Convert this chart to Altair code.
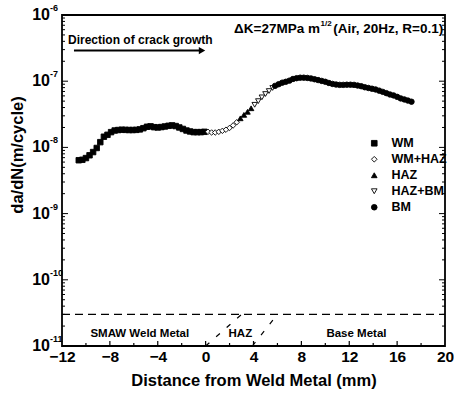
import altair as alt
import pandas as pd

FONT = "Liberation Sans"

# ---- data ----
wm_x = [-10.6, -10.3, -10.0, -9.7, -9.4, -9.1, -8.8, -8.5, -8.2, -7.9, -7.6, -7.3, -7.0, -6.7, -6.4, -6.1,
        -5.8, -5.5, -5.2, -4.9, -4.6, -4.3, -4.0, -3.7, -3.4, -3.1, -2.8, -2.5, -2.2, -1.9, -1.6, -1.3,
        -1.0, -0.7, -0.4, -0.1]
wm_y = [6.4e-9, 6.5e-9, 6.9e-9, 7.6e-9, 8.5e-9, 9.8e-9, 1.2e-8, 1.45e-8, 1.55e-8, 1.7e-8, 1.8e-8, 1.83e-8,
        1.85e-8, 1.84e-8, 1.83e-8, 1.83e-8, 1.84e-8, 1.87e-8, 1.95e-8, 2.05e-8, 2.08e-8, 2.02e-8, 2.0e-8,
        2.03e-8, 2.07e-8, 2.12e-8, 2.15e-8, 2.1e-8, 2.0e-8, 1.9e-8, 1.8e-8, 1.74e-8, 1.7e-8, 1.7e-8,
        1.7e-8, 1.72e-8]
wmhaz_x = [0.2, 0.5, 0.8, 1.1, 1.4, 1.7, 2.0, 2.3, 2.6]
wmhaz_y = [1.72e-8, 1.68e-8, 1.68e-8, 1.72e-8, 1.78e-8, 1.85e-8, 1.97e-8, 2.15e-8, 2.4e-8]
haz_x = [2.9, 3.2, 3.5, 3.8]
haz_y = [2.75e-8, 3.1e-8, 3.45e-8, 3.9e-8]
hazbm_x = [4.1, 4.4, 4.7, 5.0, 5.3, 5.6]
hazbm_y = [4.4e-8, 5.0e-8, 5.7e-8, 6.4e-8, 7.1e-8, 7.9e-8]
bm_x = [5.8, 6.1, 6.4, 6.7, 7.0, 7.3, 7.6, 7.9, 8.2, 8.5, 8.8, 9.1, 9.4, 9.7, 10.0, 10.3, 10.6, 10.9,
        11.2, 11.5, 11.8, 12.1, 12.4, 12.7, 13.0, 13.3, 13.6, 13.9, 14.2, 14.5, 14.8, 15.1, 15.4, 15.7,
        16.0, 16.3, 16.6, 16.9, 17.2]
bm_y = [8.5e-8, 9.0e-8, 9.5e-8, 9.8e-8, 1.02e-7, 1.08e-7, 1.11e-7, 1.13e-7, 1.13e-7, 1.12e-7, 1.1e-7,
        1.07e-7, 1.04e-7, 1.01e-7, 9.8e-8, 9.4e-8, 9.1e-8, 8.9e-8, 8.8e-8, 8.8e-8, 8.85e-8, 8.85e-8,
        8.8e-8, 8.6e-8, 8.4e-8, 8.1e-8, 7.9e-8, 7.7e-8, 7.5e-8, 7.2e-8, 6.9e-8, 6.6e-8, 6.3e-8, 6.1e-8,
        5.8e-8, 5.5e-8, 5.3e-8, 5.1e-8, 4.9e-8]

series_names = ["WM", "WM+HAZ", "HAZ", "HAZ+BM", "BM"]
series_shapes = ["square", "diamond", "triangle-up", "triangle-down", "circle"]
series_fills = ["black", "white", "black", "white", "black"]

x_tick_labels = [-12, -8, -4, 0, 4, 8, 12, 16, 20]
x_minor = [-10, -6, -2, 2, 6, 10, 14, 18]
y_exponents = [-6, -7, -8, -9, -10, -11]

threshold = 3e-11
zone_text = ["SMAW Weld Metal", "HAZ", "Base Metal"]
zone_x = [-5.5, 2.9, 12.6]
zone_y = 1.52e-11
haz_lines = [(0.0, 1e-11, "a"), (3.0, 3e-11, "a"), (3.9, 1e-11, "b"), (6.0, 3e-11, "b")]

# ---- tables ----
rows = []
for name, xs_, ys_ in zip(series_names, [wm_x, wmhaz_x, haz_x, hazbm_x, bm_x],
                          [wm_y, wmhaz_y, haz_y, hazbm_y, bm_y]):
    rows += [{"x": a, "y": b, "s": name} for a, b in zip(xs_, ys_)]
df = pd.DataFrame(rows)

W, H = 383, 331
xs = alt.Scale(domain=[-12, 20], nice=False, zero=False)
ys = alt.Scale(type="log", domain=[1e-11, 1e-6], nice=False)

X_AX = alt.Axis(
    title="Distance from Weld Metal (mm)", values=x_tick_labels, ticks=False, domain=False,
    grid=False, labelFont=FONT, labelFontSize=15.5, labelFontWeight="bold", labelColor="black",
    labelPadding=3, labelFlush=False, titleFont=FONT, titleFontSize=16.5, titleFontWeight="bold",
    titleColor="black", titlePadding=8)


def X(field="x:Q"):
    return alt.X(field, scale=xs, axis=X_AX)


def Y(field="y:Q"):
    return alt.Y(field, scale=ys, axis=None)


def legend():
    return alt.Legend(title=None, orient="none", legendX=306, legendY=122, padding=0,
                      labelFont=FONT, labelFontWeight="bold", labelFontSize=12.5,
                      labelColor="black", symbolSize=32, symbolStrokeWidth=0.9,
                      labelOffset=11, rowPadding=3)


points = alt.Chart(df).mark_point(stroke="black", strokeWidth=0.9, size=30, opacity=1, filled=True).encode(
    x=X(),
    y=Y(),
    shape=alt.Shape("s:N", scale=alt.Scale(domain=series_names, range=series_shapes), legend=legend()),
    color=alt.Color("s:N", scale=alt.Scale(domain=series_names, range=series_fills), legend=legend()),
)

# ticks (inward)
xmaj = pd.DataFrame({"x": x_tick_labels[1:-1]})
xmin = pd.DataFrame({"x": x_minor})
x_ticks_maj = alt.Chart(xmaj).mark_rule(color="black", strokeWidth=1.2).encode(
    x=X(), y=alt.value(H), y2=alt.value(H - 5))
x_ticks_min = alt.Chart(xmin).mark_rule(color="black", strokeWidth=1.2).encode(
    x=X(), y=alt.value(H), y2=alt.value(H - 3))

ymaj_vals = [10.0 ** e for e in y_exponents]
ymin_vals = [m * 10.0 ** e for e in range(-11, -6) for m in range(2, 10)]
ymaj = pd.DataFrame({"y": ymaj_vals})
ymin = pd.DataFrame({"y": ymin_vals})
y_ticks = []
for d, ln in [(ymaj, 6), (ymin, 3)]:
    y_ticks.append(alt.Chart(d).mark_rule(color="black", strokeWidth=1).encode(
        y=Y(), x=alt.value(0), x2=alt.value(ln)))
    y_ticks.append(alt.Chart(d).mark_rule(color="black", strokeWidth=1).encode(
        y=Y(), x=alt.value(W), x2=alt.value(W - ln)))

# y labels with superscripts
ylab = pd.DataFrame({"y": ymaj_vals, "base": ["10"] * len(y_exponents),
                     "exp": [str(e) for e in y_exponents]})
ylab_base = alt.Chart(ylab).mark_text(font=FONT, fontWeight="bold", fontSize=16, align="right",
                                      baseline="middle", color="black").encode(
    y=Y(), x=alt.value(-12), text="base:N")
ylab_exp = alt.Chart(ylab).mark_text(font=FONT, fontWeight="bold", fontSize=9, align="left",
                                     baseline="middle", color="black", dy=-7).encode(
    y=Y(), x=alt.value(-12), text="exp:N")

y_title = alt.Chart(pd.DataFrame({"t": ["da/dN(m/cycle)"]})).mark_text(
    font=FONT, fontWeight="bold", fontSize=16.5, angle=270, align="center", baseline="middle",
    color="black").encode(x=alt.value(-44), y=alt.value(140), text="t:N")

# threshold dashed line and HAZ slants
thr = alt.Chart(pd.DataFrame({"y": [threshold]})).mark_rule(
    color="black", strokeWidth=1.3, strokeDash=[8, 5]).encode(
    y=Y(), x=alt.value(0), x2=alt.value(W))
hz = pd.DataFrame(haz_lines, columns=["x", "y", "g"])
haz_l = alt.Chart(hz).mark_line(color="black", strokeWidth=1.2, strokeDash=[5, 9]).encode(
    x=X(), y=Y(), detail="g:N")

zones = alt.Chart(pd.DataFrame({"x": zone_x, "y": [zone_y] * 3, "t": zone_text})).mark_text(
    font=FONT, fontWeight="bold", fontSize=11.5, align="center", baseline="middle",
    color="black").encode(x=X(), y=Y(), text="t:N")

# arrow
arrow = alt.Chart(pd.DataFrame({"x": [-11.0], "x2": [-0.5], "y": [2.9e-7]})).mark_rule(
    color="black", strokeWidth=2).encode(x=X(), x2="x2:Q", y=Y())
head = alt.Chart(pd.DataFrame({"x": [-0.3], "y": [2.9e-7]})).mark_point(
    shape="triangle-right", filled=True, color="black", size=55, opacity=1).encode(x=X(), y=Y())
arrow_text = alt.Chart(pd.DataFrame({"x": [-11.5], "y": [4.2e-7], "t": ["Direction of crack growth"]})).mark_text(
    font=FONT, fontWeight="bold", fontSize=12, align="left", baseline="middle", color="black").encode(
    x=X(), y=Y(), text="t:N")

# condition label
cond_main = alt.Chart(pd.DataFrame({"x": [9.55], "y": [6.15e-7], "t": ["\u0394K=27MPa m"]})).mark_text(
    font=FONT, fontWeight="bold", fontSize=13.5, align="right", baseline="middle", color="black").encode(
    x=X(), y=Y(), text="t:N")
cond_sup = alt.Chart(pd.DataFrame({"x": [9.6], "y": [6.15e-7], "t": ["1/2"]})).mark_text(
    font=FONT, fontWeight="bold", fontSize=8, align="left", baseline="middle", color="black", dy=-5).encode(
    x=X(), y=Y(), text="t:N")
cond_rest = alt.Chart(pd.DataFrame({"x": [19.85], "y": [6.15e-7], "t": ["(Air, 20Hz, R=0.1)"]})).mark_text(
    font=FONT, fontWeight="bold", fontSize=13.5, align="right", baseline="middle", color="black").encode(
    x=X(), y=Y(), text="t:N")

chart = alt.layer(
    thr, haz_l, zones, arrow, head, arrow_text, cond_main, cond_sup, cond_rest,
    x_ticks_maj, x_ticks_min, *y_ticks, ylab_base, ylab_exp, y_title, points
).properties(
    width=W, height=H,
    padding={"left": 62, "top": 15, "right": 9, "bottom": 48},
    autosize=alt.AutoSizeParams(type="none"),
    background="white",
).configure_view(stroke="black", strokeWidth=1.8)

chart.save("out.html", embed_options={"renderer": "svg", "actions": False})
